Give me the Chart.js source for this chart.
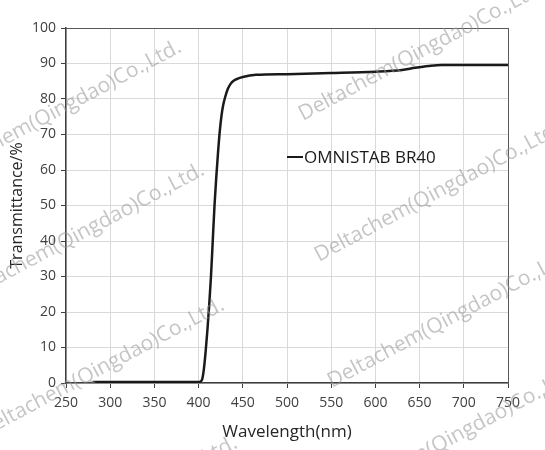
<!DOCTYPE html>
<html>
<head>
<meta charset="utf-8">
<script src="https://cdn.jsdelivr.net/npm/chart.js@4"></script>
<style>
  html, body { margin: 0; padding: 0; background: #fff; }
  #wrap { width: 545px; height: 450px; }
</style>
</head>
<body>
<div id="wrap"><canvas id="spectrum" width="545" height="450"></canvas></div>
<script>
// wavelength (nm) and transmittance (%)
const wavelength = [280, 300, 350, 400, 402, 404, 406, 408, 410, 412, 414, 416, 418, 420, 422, 424, 426, 428, 430, 433, 436, 440, 445, 450, 465, 500, 550, 600, 630, 645, 660, 675, 750];
const transmittance = [0.3, 0.3, 0.3, 0.3, 0.4, 1.0, 4.0, 9.0, 15.0, 22.0, 30.0, 40.0, 50.0, 58.0, 65.0, 71.0, 75.5, 78.5, 80.5, 82.8, 84.2, 85.2, 85.8, 86.2, 86.8, 87.0, 87.3, 87.7, 88.2, 88.8, 89.3, 89.6, 89.6];
const seriesName = 'OMNISTAB BR40';
const xTitle = 'Wavelength(nm)';
const yTitle = 'Transmittance/%';
const watermark = 'Deltachem(Qingdao)Co.,Ltd.';

const FONT = '"Open Sans", "DejaVu Sans", sans-serif';

// legend drawn inside the plot, like the original
const insideLegend = {
    id: 'insideLegend',
    afterDatasetsDraw(chart) {
        const ctx = chart.ctx;
        ctx.save();
        ctx.strokeStyle = '#1a1a1a';
        ctx.lineWidth = 2;
        ctx.beginPath();
        ctx.moveTo(287, 157);
        ctx.lineTo(303, 157);
        ctx.stroke();
        ctx.fillStyle = '#1a1a1a';
        ctx.font = '17px ' + FONT;
        ctx.textBaseline = 'middle';
        ctx.fillText(seriesName, 304, 158);
        ctx.restore();
    }
};

// grey diagonal watermark text
const watermarks = {
    id: 'watermarks',
    afterDraw(chart) {
        const ctx = chart.ctx;
        const spots = [[-60, 180], [303, 121], [319, 262], [-37, 303], [332, 388], [-17, 438], [-4, 576], [337, 506]];
        ctx.save();
        ctx.fillStyle = 'rgba(150,150,150,0.55)';
        ctx.font = '21px ' + FONT;
        spots.forEach(([x, y]) => {
            ctx.save();
            ctx.translate(x, y);
            ctx.rotate(-28 * Math.PI / 180);
            ctx.fillText(watermark, 0, 0);
            ctx.restore();
        });
        ctx.restore();
    }
};

const ctx = document.getElementById('spectrum').getContext('2d');

new Chart(ctx, {
    type: 'line',
    data: {
        datasets: [{
            label: seriesName,
            data: wavelength.map((w, i) => ({ x: w, y: transmittance[i] })),
            borderColor: '#1a1a1a',
            borderWidth: 2.5,
            pointRadius: 0,
            fill: false,
            cubicInterpolationMode: 'monotone'
        }]
    },
    options: {
        responsive: false,
        animation: false,
        layout: { padding: { left: 4, right: 37, top: 28, bottom: 4 } },
        plugins: {
            legend: { display: false },
            tooltip: { enabled: false }
        },
        scales: {
            x: {
                type: 'linear',
                min: 250,
                max: 750,
                ticks: {
                    stepSize: 50,
                    color: '#404040',
                    font: { size: 14, family: FONT },
                    padding: 7
                },
                grid: { color: '#d9d9d9', tickColor: '#404040', tickLength: 5 },
                border: { color: '#404040', width: 1.5 },
                title: {
                    display: true,
                    text: xTitle,
                    color: '#262626',
                    font: { size: 17, family: FONT },
                    padding: { top: 6 }
                },
                afterFit(scale) { scale.height = 63; }
            },
            y: {
                min: 0,
                max: 100,
                ticks: {
                    stepSize: 10,
                    color: '#404040',
                    font: { size: 14, family: FONT },
                    padding: 5
                },
                grid: { color: '#d9d9d9', tickColor: '#404040', tickLength: 5 },
                border: { color: '#404040', width: 1.5 },
                title: {
                    display: true,
                    text: yTitle,
                    color: '#262626',
                    font: { size: 16, family: FONT },
                    padding: { bottom: 4 }
                },
                afterFit(scale) { scale.width = 62; }
            },
            x2: {
                type: 'linear', position: 'top', min: 250, max: 750,
                ticks: { display: false }, grid: { display: false },
                border: { color: '#595959', width: 1 },
                afterFit(scale) { scale.height = 0; }
            },
            y2: {
                position: 'right', min: 0, max: 100,
                ticks: { display: false }, grid: { display: false },
                border: { color: '#595959', width: 1 },
                afterFit(scale) { scale.width = 0; }
            }
        }
    },
    plugins: [insideLegend, watermarks]
});
</script>
</body>
</html>
